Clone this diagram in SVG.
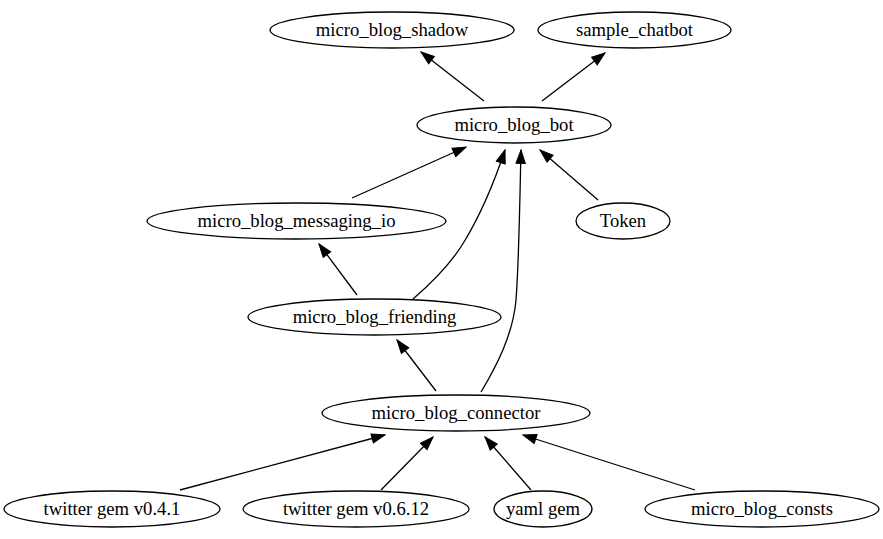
<svg xmlns="http://www.w3.org/2000/svg" width="883" height="539" viewBox="0 0 883 539">
<style>
.n ellipse{fill:none;stroke:#000;stroke-width:1.3}
.n text{font-family:"Liberation Serif","Times New Roman",serif;font-size:18.67px;text-anchor:middle;fill:#000}
#edges path{fill:none;stroke:#000;stroke-width:1.3;marker-end:url(#ah)}
</style>
<defs>
<marker id="ah" markerUnits="userSpaceOnUse" markerWidth="16" markerHeight="12" refX="13.3" refY="4.67" orient="auto" overflow="visible">
<path d="M0,0 L13.3,4.67 L0,9.33 z" fill="#000" stroke="#000" stroke-width="1"/>
</marker>
</defs>
<rect width="883" height="539" fill="#fff"/>
<g id="edges">
<path d="M484,101 L421,52"/>
<path d="M542,101 L605,53"/>
<path d="M352,198 L466,147"/>
<path d="M413,299 C435,280 452,262 464,242 C481,214 495,180 505,150"/>
<path d="M481,392 C496,367 513,335 516,300 C519,262 520,190 521,150"/>
<path d="M598,200 L540,150"/>
<path d="M357,295 L319,244"/>
<path d="M436,391 L397,340"/>
<path d="M180,490 L385,435"/>
<path d="M381,490 L433,437"/>
<path d="M531,490 L485,437"/>
<path d="M695,490 L523,435"/>
</g>
<g id="micro_blog_shadow" class="n"><ellipse cx="392" cy="30" rx="122" ry="18"/><text x="392" y="36">micro_blog_shadow</text></g>
<g id="sample_chatbot" class="n"><ellipse cx="634.5" cy="30" rx="96.5" ry="18"/><text x="634.5" y="36">sample_chatbot</text></g>
<g id="micro_blog_bot" class="n"><ellipse cx="514" cy="125" rx="97" ry="18"/><text x="514" y="131">micro_blog_bot</text></g>
<g id="micro_blog_messaging_io" class="n"><ellipse cx="296.5" cy="221" rx="149.5" ry="18"/><text x="296.5" y="227">micro_blog_messaging_io</text></g>
<g id="Token" class="n"><ellipse cx="623" cy="221" rx="47" ry="18"/><text x="623" y="227">Token</text></g>
<g id="micro_blog_friending" class="n"><ellipse cx="374.5" cy="317" rx="126.5" ry="18"/><text x="374.5" y="323">micro_blog_friending</text></g>
<g id="micro_blog_connector" class="n"><ellipse cx="456" cy="413" rx="134" ry="18"/><text x="456" y="419">micro_blog_connector</text></g>
<g id="twitter_gem_v0_4_1" class="n"><ellipse cx="112" cy="509" rx="108" ry="18"/><text x="112" y="515">twitter gem v0.4.1</text></g>
<g id="twitter_gem_v0_6_12" class="n"><ellipse cx="356" cy="509" rx="113" ry="18"/><text x="356" y="515">twitter gem v0.6.12</text></g>
<g id="yaml_gem" class="n"><ellipse cx="543" cy="509" rx="49" ry="18"/><text x="543" y="515">yaml gem</text></g>
<g id="micro_blog_consts" class="n"><ellipse cx="762" cy="509" rx="117" ry="18"/><text x="762" y="515">micro_blog_consts</text></g>
</svg>
